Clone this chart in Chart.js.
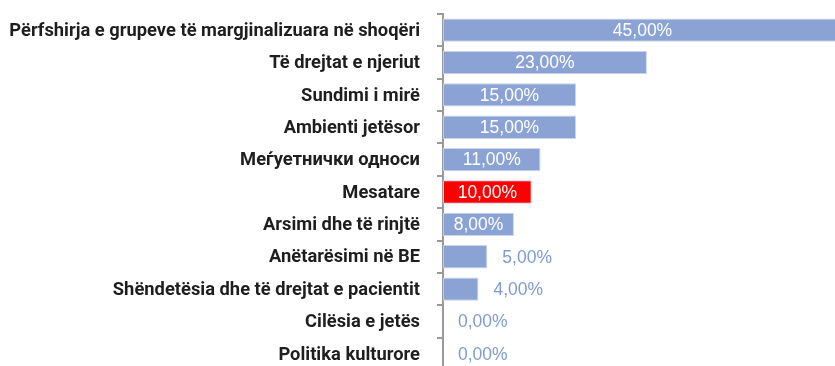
<!DOCTYPE html>
<html>
<head>
<meta charset="utf-8">
<script src="https://cdn.jsdelivr.net/npm/chart.js@4"></script>
<style>
  html, body { margin: 0; padding: 0; background: #fff; overflow: hidden; }
  #wrap { position: absolute; left: 0; top: 0; }
</style>
</head>
<body>
<div id="wrap"><canvas id="grafico" width="842" height="370"></canvas></div>
<script>
// categorias e valores (%)
const categorias = [
    'Përfshirja e grupeve të margjinalizuara në shoqëri',
    'Të drejtat e njeriut',
    'Sundimi i mirë',
    'Ambienti jetësor',
    'Меѓуетнички односи',
    'Mesatare',
    'Arsimi dhe të rinjtë',
    'Anëtarësimi në BE',
    'Shëndetësia dhe të drejtat e pacientit',
    'Cilësia e jetës',
    'Politika kulturore'
];
const valores = [45, 23, 15, 15, 11, 10, 8, 5, 4, 0, 0];
const destaque = 'Mesatare';

const AZUL = '#8aa3d4';
const VERMELHO = '#ff0000';

const cores = categorias.map(c => c === destaque ? VERMELHO : AZUL);

// nomes das categorias em fonte estreita (escala horizontal)
const nomes = {
    id: 'nomes',
    afterDraw(chart) {
        const ctx = chart.ctx;
        const y = chart.scales.y;
        const sx = 0.965;
        ctx.save();
        ctx.font = 'bold 19px Roboto, "Liberation Sans", sans-serif';
        ctx.fillStyle = '#1e1e1e';
        ctx.textAlign = 'right';
        ctx.textBaseline = 'middle';
        ctx.scale(sx, 1);
        categorias.forEach((c, i) => {
            ctx.fillText(c, (y.right - 23) / sx, y.getPixelForTick(i) + 1);
        });
        ctx.restore();
    }
};

// rótulos: dentro da barra (branco) ou depois da ponta (azul)
const rotulos = {
    id: 'rotulos',
    afterDatasetsDraw(chart) {
        const ctx = chart.ctx;
        const meta = chart.getDatasetMeta(0);
        ctx.save();
        ctx.font = '17.5px "Liberation Sans", Arial, sans-serif';
        ctx.textBaseline = 'middle';
        meta.data.forEach((bar, i) => {
            const v = valores[i];
            const txt = v.toFixed(2).replace('.', ',') + '%';
            if (v >= 8) {
                ctx.fillStyle = '#ffffff';
                ctx.textAlign = 'center';
                ctx.fillText(txt, (bar.x + bar.base) / 2, bar.y + 1);
            } else {
                ctx.fillStyle = '#7f9bd0';
                ctx.textAlign = 'left';
                ctx.fillText(txt, bar.x + 15, bar.y + 1);
            }
        });
        ctx.restore();
    }
};

const ctx = document.getElementById('grafico').getContext('2d');
const grafico = new Chart(ctx, {
    type: 'bar',
    data: {
        labels: categorias,
        datasets: [{
            data: valores,
            backgroundColor: cores,
            borderColor: 'rgba(200, 208, 225, 0.9)',
            borderWidth: 1,
            borderSkipped: false,
            categoryPercentage: 0.72,
            barPercentage: 1
        }]
    },
    options: {
        indexAxis: 'y',
        responsive: false,
        animation: false,
        layout: { padding: { top: 14, right: 0, bottom: 0, left: 0 } },
        plugins: {
            legend: { display: false },
            tooltip: { enabled: false }
        },
        scales: {
            x: {
                display: false,
                min: 0,
                max: 45
            },
            y: {
                afterFit(axis) {
                    axis.width = 443;
                    axis.paddingTop = 0;
                    axis.paddingBottom = 0;
                },
                grid: {
                    offset: true,
                    drawOnChartArea: false,
                    drawTicks: true,
                    tickLength: 6,
                    color: '#9a9a9a',
                    lineWidth: 2
                },
                border: { display: true, color: '#9a9a9a', width: 2 },
                ticks: { display: false }
            }
        }
    },
    plugins: [rotulos, nomes]
});
</script>
</body>
</html>
